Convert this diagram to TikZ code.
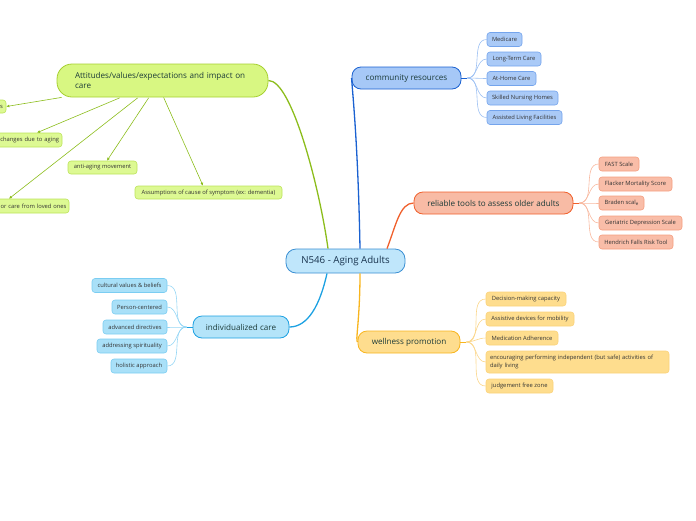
\documentclass[tikz,border=0pt]{standalone}
\usepackage{fontspec}
\setmainfont{Open Sans}
\usetikzlibrary{arrows.meta,calc}
\definecolor{cenF}{HTML}{BFE6FB}
\definecolor{cenD}{HTML}{3A8FD3}
\definecolor{cenT}{HTML}{17324D}
\definecolor{brT}{HTML}{1B3A38}
\definecolor{leafT}{HTML}{333333}
\definecolor{attF}{HTML}{D8F782}
\definecolor{attD}{HTML}{A6D030}
\definecolor{attL}{HTML}{8CBD1C}
\definecolor{attcF}{HTML}{DDF993}
\definecolor{attcD}{HTML}{BCE35A}
\definecolor{comF}{HTML}{A6C8F7}
\definecolor{comD}{HTML}{1A61D1}
\definecolor{comcF}{HTML}{AACAF7}
\definecolor{comcD}{HTML}{74A4EC}
\definecolor{comcL}{HTML}{9CC0F3}
\definecolor{relF}{HTML}{F8BBA5}
\definecolor{relD}{HTML}{F0602C}
\definecolor{relcF}{HTML}{F9BDA8}
\definecolor{relcD}{HTML}{F59E80}
\definecolor{relcL}{HTML}{F8B9A0}
\definecolor{indF}{HTML}{B4E4F9}
\definecolor{indD}{HTML}{1DA1E2}
\definecolor{indcF}{HTML}{A9E0F8}
\definecolor{indcD}{HTML}{7BCDF2}
\definecolor{indcL}{HTML}{95D6F5}
\definecolor{welF}{HTML}{FEDD8E}
\definecolor{welD}{HTML}{F8B51E}
\definecolor{welcF}{HTML}{FEDD8E}
\definecolor{welcD}{HTML}{FBD27A}
\definecolor{welcL}{HTML}{FBD68A}
\begin{document}
\begin{tikzpicture}[x=1pt,y=-1pt,
  central/.style={draw=cenD, fill=cenF, line width=0.8pt, rounded corners=10pt, inner sep=0pt,
    minimum width=119, minimum height=24, font=\fontsize{9.7}{11}\selectfont, text=cenT},
  branch/.style={line width=0.8pt, rounded corners=9pt, inner sep=0pt, minimum height=22,
    font=\fontsize{8.1}{9.6}\selectfont, text=brT},
  leaf/.style={line width=0.6pt, rounded corners=3pt, inner sep=0pt, minimum height=14,
    font=\fontsize{5.8}{7.2}\selectfont, text=leafT},
  attleaf/.style={leaf, draw=attcD, fill=attcF, minimum height=13},
  comleaf/.style={leaf, draw=comcD, fill=comcF},
  relleaf/.style={leaf, draw=relcD, fill=relcF},
  indleaf/.style={leaf, draw=indcD, fill=indcF},
  welleaf/.style={leaf, draw=welcD, fill=welcF},
  mainline/.style={line width=1.3pt},
  thin/.style={line width=0.6pt},
  attarrow/.style={draw=attL, line width=0.6pt, -{Latex[length=3pt,width=3pt]}}
]
\useasboundingbox (0,0) rectangle (696,520);
\clip (0,0) rectangle (696,520);

% central
\node[central] (cen) at (345.5,261) {N546 - Aging Adults};

% branches
\node[branch, draw=attD, fill=attF, rounded corners=15pt, minimum width=211, minimum height=33,
  text width=175, inner xsep=18, align=left] (att) at (162.5,80.5)
  {\mbox{Attitudes/values/expectations and impact on}\\care};
\node[branch, draw=comD, fill=comF, minimum width=109] (com) at (406.5,78) {community resources};
\node[branch, draw=relD, fill=relF, minimum width=159] (rel) at (493.5,203) {reliable tools to assess older adults};
\node[branch, draw=indD, fill=indF, minimum width=96] (ind) at (241,327) {individualized care};
\node[branch, draw=welD, fill=welF, minimum width=102] (wel) at (409,342) {wellness promotion};

% main connectors
\draw[mainline, attL] (att.east) .. controls (292,80) and (320,190) .. (cen.north -| 328,0);
\draw[mainline, comD] (cen.north -| 360,0) .. controls (358,140) and (352,88) .. (com.west);
\draw[mainline, relD] (cen.north -| 387,0) .. controls (396,225) and (400,203) .. (rel.west);
\draw[mainline, indD] (cen.south -| 327,0) .. controls (320,305) and (308,327) .. (ind.east);
\draw[mainline, welD] (cen.south -| 360,0) .. controls (360,320) and (355,342) .. (wel.west);

% attitudes children
\node[attleaf, minimum width=46, text width=40, align=right] (a1) at (-17,106.5) {s};
\node[attleaf, minimum width=92, text width=86, align=right, minimum height=14] (a2) at (16,140) {changes due to aging};
\node[attleaf, minimum width=99, text width=94, align=right, minimum height=14] (a3) at (19.5,206) {or care from loved ones};
\node[attleaf, minimum width=69] (a4) at (102.5,167.5) {anti-aging movement};
\node[attleaf, minimum width=147] (a5) at (208.5,192.5) {Assumptions of cause of symptom (ex: dementia)};
\draw[attarrow] ($(att.south west)+(5,0)$) -- (a1.east);
\draw[attarrow] ($(att.south west)+(63,0.5)$) -- (a2.north -| 37,0);
\draw[attarrow] ($(att.south west)+(81,0.5)$) -- (a3.north -| 9,0);
\draw[attarrow] ($(att.south west)+(92,0.5)$) -- (a4.north -| 107,0);
\draw[attarrow] ($(att.south west)+(107,0)$) -- (a5.north -| 203,0);

% community children
\node[comleaf, minimum width=35] (c1) at (504.5,39.5) {Medicare};
\node[comleaf, minimum width=54] (c2) at (514,59) {Long-Term Care};
\node[comleaf, minimum width=49] (c3) at (511.5,78.5) {At-Home Care};
\node[comleaf, minimum width=71] (c4) at (522.5,98) {Skilled Nursing Homes};
\node[comleaf, minimum width=75] (c5) at (524.5,117.5) {Assisted Living Facilities};
\draw[thin, comD] (com.east) -- ++(6,0) coordinate (comhub);
\foreach \n in {c1,c2,c3,c4,c5} \draw[thin, comcL] (comhub) to[out=0,in=180] (\n.west);

% reliable children
\node[relleaf, minimum width=40] (r1) at (619,164) {FAST Scale};
\node[relleaf, minimum width=73] (r2) at (635.5,184) {Flacker Mortality Score};
\node[relleaf, minimum width=45] (r3) at (621.5,203) {Braden scal\raisebox{-1.2pt}{\fontsize{4.5}{5}\selectfont e}};
\node[relleaf, minimum width=83] (r4) at (640.5,223) {Geriatric Depression Scale};
\node[relleaf, minimum width=74] (r5) at (636,242) {Hendrich Falls Risk Tool};
\draw[thin, relD] (rel.east) -- ++(6,0) coordinate (relhub);
\foreach \n in {r1,r2,r3,r4,r5} \draw[thin, relcL] (relhub) to[out=0,in=180] (\n.west);

% individualized children
\node[indleaf, minimum width=75] (i1) at (129.5,285.5) {cultural values \& beliefs};
\node[indleaf, minimum width=55] (i2) at (139.5,307) {Person-centered};
\node[indleaf, minimum width=64] (i3) at (135,327) {advanced directives};
\node[indleaf, minimum width=70] (i4) at (132,346) {addressing spirituality};
\node[indleaf, minimum width=56] (i5) at (139,366) {holistic approach};
\draw[thin, indD] (ind.west) -- ++(-6,0) coordinate (indhub);
\foreach \n in {i1,i2,i3,i4,i5} \draw[thin, indcL] (indhub) to[out=180,in=0] (\n.east);

% wellness children
\node[welleaf, minimum width=80] (w1) at (526,299) {Decision-making capacity};
\node[welleaf, minimum width=88] (w2) at (530,319) {Assistive devices for mobility};
\node[welleaf, minimum width=72] (w3) at (522,338) {Medication Adherence};
\node[welleaf, minimum width=183, minimum height=22, text width=175, align=left] (w4) at (577.5,362)
  {\mbox{encouraging performing independent (but safe) activities of}\\daily living};
\node[welleaf, minimum width=67] (w5) at (519.5,386) {judgement free zone};
\draw[thin, welD] (wel.east) -- ++(6,0) coordinate (welhub);
\foreach \n in {w1,w2,w3,w4,w5} \draw[thin, welcL] (welhub) to[out=0,in=180] (\n.west);
\end{tikzpicture}
\end{document}
